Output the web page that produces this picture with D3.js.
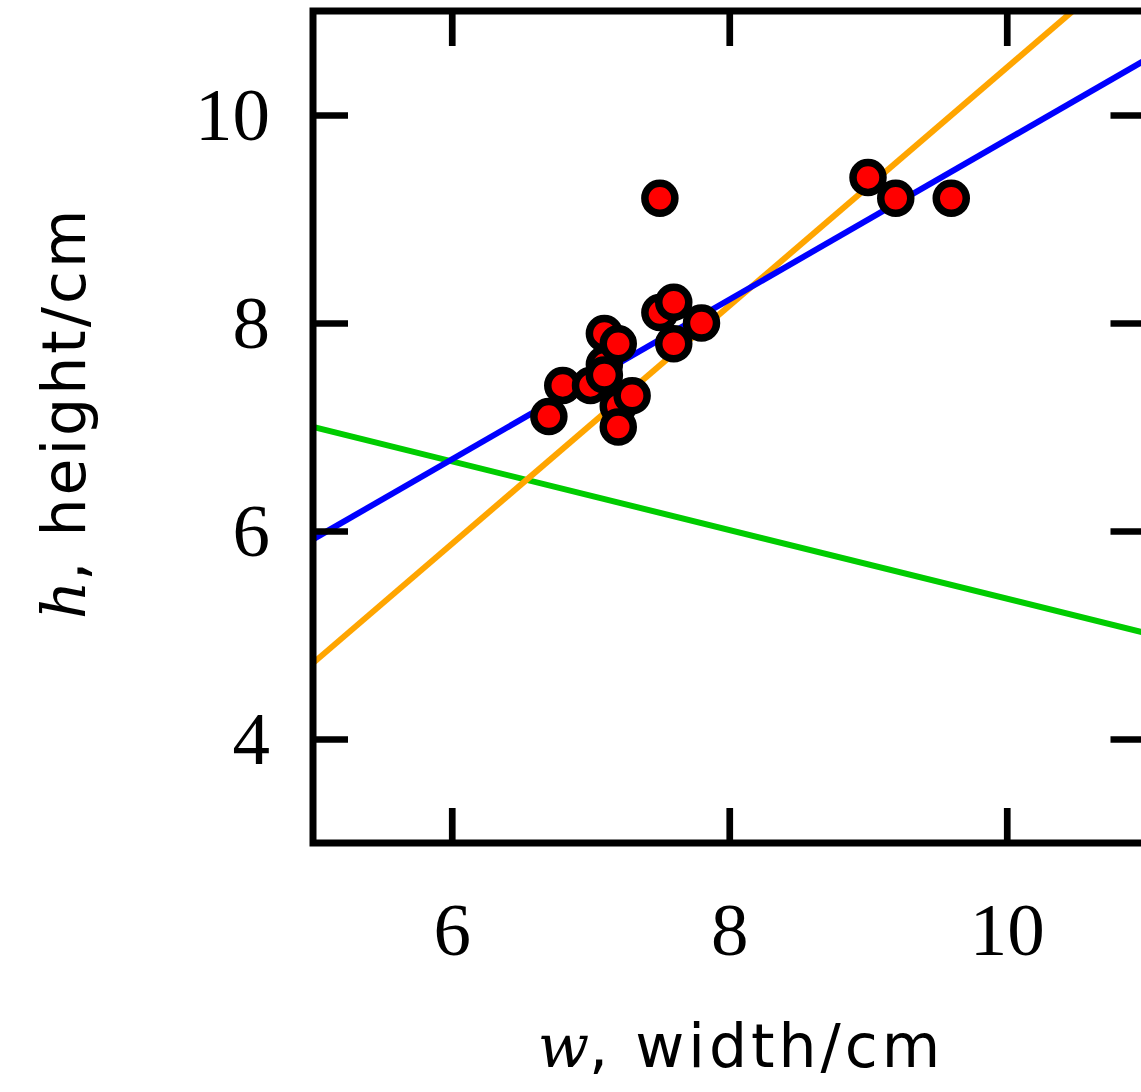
<!DOCTYPE html>
<html>
<head>
<meta charset="utf-8">
<script src="https://cdn.jsdelivr.net/npm/d3@7"></script>
<style>
  body { margin: 0; background: #fff; }
  svg { display: block; }
</style>
</head>
<body>
<svg id="svg" width="1141" height="1092"></svg>
<script>
var svg = d3.select("#svg");

// measurements: width w and height h in cm
var widths  = [6.7, 6.8, 7.0, 7.1, 7.1, 7.1, 7.2, 7.2, 7.2, 7.3, 7.5, 7.5, 7.6, 7.6, 7.8, 9.0, 9.2, 9.6];
var heights = [7.1, 7.4, 7.4, 7.6, 7.9, 7.5, 7.8, 7.2, 7.0, 7.3, 8.1, 9.2, 8.2, 7.8, 8.0, 9.4, 9.2, 9.2];

// straight lines, given by their ends at w = 5 and w = 11
var lineEnds = [5, 11];
var blueLine   = [5.92, 10.53];
var orangeLine = [4.73, 11.6];
var greenLine  = [7.0, 5.02];

var xTicks = [6, 8, 10];
var yTicks = [4, 6, 8, 10];

var x = d3.scaleLinear().domain([5, 11]).range([313, 1145.5]);
var y = d3.scaleLinear().domain([3, 11]).range([843, 11]);

svg.append("defs").append("clipPath").attr("id", "plot")
  .append("rect")
  .attr("x", x(5)).attr("y", y(11))
  .attr("width", x(11) - x(5)).attr("height", y(3) - y(11));

// fitted lines
var lines = [
  {vals: greenLine, color: "#00cc00"},
  {vals: orangeLine, color: "#ffa500"},
  {vals: blueLine, color: "#0000ff"}
];
var line = d3.line()
  .x(function (d) { return x(d[0]); })
  .y(function (d) { return y(d[1]); });

svg.append("g").attr("clip-path", "url(#plot)")
  .selectAll("path")
  .data(lines)
  .enter()
  .append("path")
  .attr("d", function (d) { return line(lineEnds.map(function (w, i) { return [w, d.vals[i]]; })); })
  .style("fill", "none")
  .style("stroke", function (d) { return d.color; })
  .style("stroke-width", 6);

// points
var points = widths.map(function (w, i) { return {w: w, h: heights[i]}; });
svg.append("g")
  .selectAll("circle")
  .data(points)
  .enter()
  .append("circle")
  .attr("cx", function (d) { return x(d.w); })
  .attr("cy", function (d) { return y(d.h); })
  .attr("r", 15)
  .style("fill", "#ff0000")
  .style("stroke", "#000")
  .style("stroke-width", 7.5);

// axes, ticks pointing inwards
function styleAxis(g) {
  g.select(".domain").remove();
  g.selectAll(".tick line").style("stroke", "#000").style("stroke-width", 6.7);
  g.selectAll(".tick text")
    .style("font-family", "'Liberation Serif', 'DejaVu Serif', serif")
    .style("font-size", "75px")
    .style("fill", "#000");
}

var fmt = d3.format("d");
svg.append("g").attr("transform", "translate(0," + y(3) + ")")
  .call(d3.axisBottom(x).tickValues(xTicks).tickSize(-35).tickPadding(59).tickFormat(fmt))
  .call(styleAxis);
svg.append("g").attr("transform", "translate(0," + y(11) + ")")
  .call(d3.axisTop(x).tickValues(xTicks).tickSize(-35).tickFormat(""))
  .call(styleAxis);
svg.append("g").attr("transform", "translate(" + x(5) + ",0)")
  .call(d3.axisLeft(y).tickValues(yTicks).tickSize(-35).tickPadding(43).tickFormat(fmt))
  .call(styleAxis);
svg.append("g").attr("transform", "translate(" + x(11) + ",0)")
  .call(d3.axisRight(y).tickValues(yTicks).tickSize(-35).tickFormat(""))
  .call(styleAxis);

// frame
svg.append("rect")
  .attr("x", x(5)).attr("y", y(11))
  .attr("width", x(11) - x(5)).attr("height", y(3) - y(11))
  .style("fill", "none")
  .style("stroke", "#000")
  .style("stroke-width", 7);

// axis titles
var sans = "'DejaVu Sans', 'Noto Sans', sans-serif";
var serifIt = "'DejaVu Serif', 'Liberation Serif', serif";

var xt = svg.append("text")
  .attr("x", 741).attr("y", 1067)
  .attr("text-anchor", "middle")
  .style("font-family", sans)
  .style("font-size", "60px");
xt.append("tspan").style("font-family", serifIt).style("font-style", "italic").text("w");
xt.append("tspan").style("letter-spacing", "4px").text(", width/cm");

var yt = svg.append("text")
  .attr("transform", "translate(85,413) rotate(-90)")
  .attr("text-anchor", "middle")
  .style("font-family", sans)
  .style("font-size", "60px");
yt.append("tspan").style("font-family", serifIt).style("font-style", "italic").text("h");
yt.append("tspan").style("letter-spacing", "3px").text(", height/cm");
</script>
</body>
</html>
